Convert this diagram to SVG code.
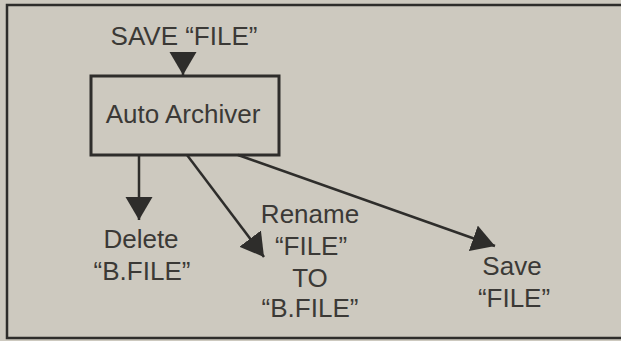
<svg xmlns="http://www.w3.org/2000/svg" width="621" height="341" viewBox="0 0 621 341">
<style>
  text { font-family: "Liberation Sans", Arial, sans-serif; font-size: 26px; fill: #3b3936; text-anchor: middle; }
  .ln { stroke: #2e2d2b; stroke-width: 2.5; fill: none; }
</style>
<defs>
  <marker id="ah" markerUnits="userSpaceOnUse" markerWidth="26" markerHeight="28" refX="23" refY="13.5" orient="auto" viewBox="0 0 26 28">
    <path d="M0,0 L23,13.5 L0,27 Z" fill="#2e2d2b"/>
  </marker>
</defs>
<rect x="0" y="0" width="621" height="341" fill="#cdc9bf"/>
<path d="M621,5 L7,5 L7,338 L621,338" stroke="#2e2d2b" stroke-width="2.5" fill="none"/>

<g id="input">
  <text x="184" y="45">SAVE “FILE”</text>
</g>

<g id="archiver">
  <rect x="91" y="76" width="188" height="79" fill="none" stroke="#2e2d2b" stroke-width="3"/>
  <text x="183" y="123">Auto Archiver</text>
</g>

<g id="delete">
  <text x="141" y="248">Delete</text>
  <text x="142" y="280">“B.FILE”</text>
</g>

<g id="rename">
  <text x="310" y="223">Rename</text>
  <text x="311" y="255">“FILE”</text>
  <text x="310" y="287">TO</text>
  <text x="310" y="317">“B.FILE”</text>
</g>

<g id="save">
  <text x="512" y="275">Save</text>
  <text x="514" y="307">“FILE”</text>
</g>

<g id="connectors">
  <line class="ln" x1="183" y1="53" x2="183" y2="75" marker-end="url(#ah)"/>
  <line class="ln" x1="139" y1="155" x2="139" y2="220" marker-end="url(#ah)"/>
  <line class="ln" x1="187" y1="155" x2="264" y2="257" marker-end="url(#ah)"/>
  <line class="ln" x1="238" y1="155" x2="495" y2="246" marker-end="url(#ah)"/>
</g>
</svg>
